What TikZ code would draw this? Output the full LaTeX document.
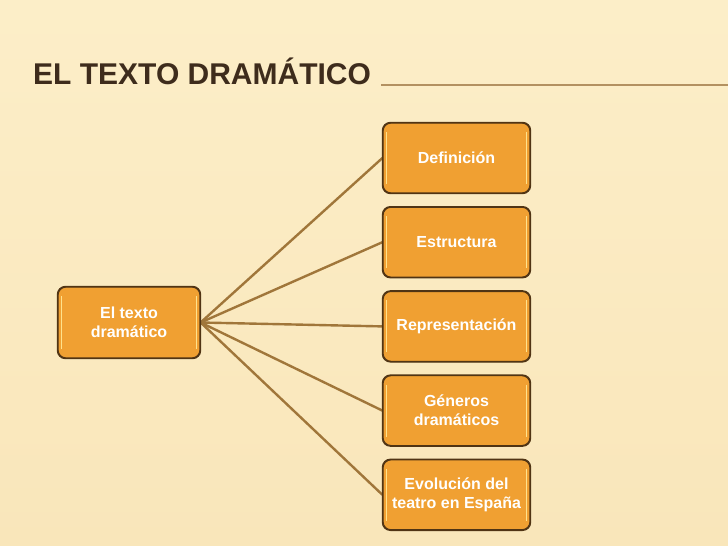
\documentclass[tikz,border=0pt]{standalone}
\usepackage{fontspec}
\setmainfont{Liberation Sans}
\usetikzlibrary{positioning}

\definecolor{fondo}{RGB}{252,238,200}
\definecolor{fondob}{RGB}{249,230,186}
\definecolor{naranja}{RGB}{240,160,50}
\definecolor{borde}{RGB}{80,52,20}
\definecolor{enlace}{RGB}{160,118,58}
\definecolor{titulo}{RGB}{62,44,28}
\definecolor{brillo}{RGB}{255,226,140}

\tikzset{
    bloque/.style={draw=borde, line width=1.2pt, rectangle, rounded corners=8pt,
        fill=naranja, text=white, font=\bfseries\fontsize{16}{19}\selectfont,
        align=center, minimum width=147pt, minimum height=70pt, inner sep=2pt,
        path picture={
            \draw[brillo, line width=1.5pt]
                ([xshift=3.5pt,yshift=-9pt]path picture bounding box.north west) --
                ([xshift=3.5pt,yshift=9pt]path picture bounding box.south west);
            \draw[brillo, line width=1.5pt]
                ([xshift=-3.5pt,yshift=-9pt]path picture bounding box.north east) --
                ([xshift=-3.5pt,yshift=9pt]path picture bounding box.south east);
        }},
    enlace/.style={draw=enlace, line width=2.4pt},
}

\begin{document}
\begin{tikzpicture}[x=1pt, y=-1pt]
        \shade[top color=fondo, bottom color=fondob] (0,0) rectangle (728,546);
        \useasboundingbox (0,0) rectangle (728,546);

        % titulo
        \node[anchor=base west, text=titulo, font=\bfseries\fontsize{30}{34}\selectfont, inner sep=0pt] (T) at (33,84) {EL TEXTO DRAMÁTICO};
        \coordinate (L1) at (381,85);
        \coordinate (L2) at (728,85);
        \draw[enlace!80, line width=1.2pt] (L1) -- (L2);

        \node[bloque, minimum width=142pt, minimum height=71pt] (TD) at (129,322.5) {El texto\\dramático};

        \node[bloque] (B1) at (456.5,158) {Definición};
        \node[bloque, below=13pt of B1] (B2) {Estructura};
        \node[bloque, below=13pt of B2] (B3) {Representación};
        \node[bloque, below=13pt of B3] (B4) {Géneros\\dramáticos};
        \node[bloque, below=13pt of B4] (B5) {Evolución del\\teatro en España};

        \foreach \b in {B1,B2,B3,B4,B5}
            \draw[enlace] (TD.east) -- (\b.west);

        % cajas por encima de las lineas
        \foreach \b in {TD,B1,B2,B3,B4,B5}
            \draw[borde, line width=1.2pt, rounded corners=8pt] (\b.north west) rectangle (\b.south east);
    \end{tikzpicture}
\end{document}
